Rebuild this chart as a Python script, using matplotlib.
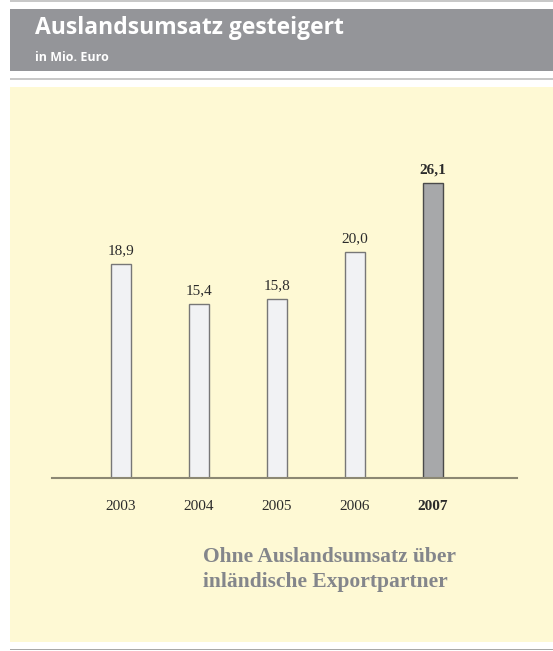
import matplotlib.pyplot as plt
from matplotlib.patches import Rectangle

years = ["2003", "2004", "2005", "2006", "2007"]
values = [18.9, 15.4, 15.8, 20.0, 26.1]
value_labels = ["18,9", "15,4", "15,8", "20,0", "26,1"]
highlight = [False, False, False, False, True]
note_lines = ["Ohne Auslandsumsatz über", "inländische Exportpartner"]

W, H = 553, 651


def fx(px):
    return px / W


def fy(py):
    return 1 - py / H


def band(top, bottom, color):
    # full-width strip given in pixel rows, drawn behind the axes
    fig.add_artist(Rectangle((fx(10), fy(bottom)), fx(543), (bottom - top) / H,
                             transform=fig.transFigure, color=color, lw=0, zorder=-10))


fig = plt.figure(figsize=(W / 100, H / 100), dpi=100)
fig.patch.set_facecolor("white")

band(0.5, 2, "#c8c8c8")
band(9, 71, "#949599")
band(78, 80, "#c8c8c8")
band(87, 642, "#fef9d4")
band(648.5, 650, "#a8a8a8")

fig.text(fx(35), fy(34), "Auslandsumsatz gesteigert", color="white", fontsize=16.5,
         fontweight="bold", family="Open Sans", va="baseline", ha="left")
fig.text(fx(35), fy(61), "in Mio. Euro", color="white", fontsize=9,
         fontweight="bold", family="Open Sans", va="baseline", ha="left")

# bar chart
ax = fig.add_axes([fx(52), fy(478), fx(517 - 52), 339 / H])
ax.set_facecolor("none")
x = list(range(len(years)))
faces = ["#a7a8aa" if h else "#f1f2f4" for h in highlight]
edges = ["#4a4a4a" if h else "#777777" for h in highlight]
ax.bar(x, values, width=0.26, color=faces, edgecolor=edges, linewidth=1.0, zorder=2)

for xi, v, lab, h in zip(x, values, value_labels, highlight):
    ax.text(xi, v + 0.6, lab, ha="center", va="bottom", fontsize=11,
            family="Liberation Serif", color="#2b2b2b",
            fontweight="bold" if h else "normal")

ax.set_xlim(-69 / 78, (517 - 121) / 78)
ax.set_ylim(0, 30)
ax.set_xticks(x)
ax.set_xticklabels(years, fontsize=11, family="Liberation Serif", color="#2b2b2b")
for lbl, h in zip(ax.get_xticklabels(), highlight):
    if h:
        lbl.set_fontweight("bold")
ax.tick_params(axis="x", length=0, pad=16)
ax.set_yticks([])
for side in ["left", "right", "top"]:
    ax.spines[side].set_visible(False)
ax.spines["bottom"].set_color("#8c8873")
ax.spines["bottom"].set_linewidth(1.5)

for row, line in zip([562, 587], note_lines):
    fig.text(fx(203), fy(row), line, fontsize=15.5, family="Liberation Serif",
             fontweight="bold", color="#84868b", ha="left", va="baseline")

fig.savefig("out.png", dpi=100)
